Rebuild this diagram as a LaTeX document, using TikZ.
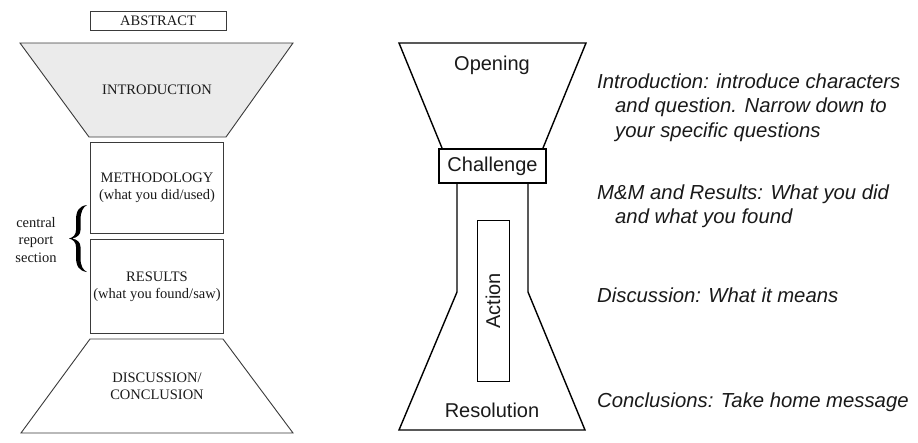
\documentclass[tikz,border=0pt]{standalone}
\usepackage{fontspec}
\setmainfont{Liberation Serif}
\newfontfamily\arialfont{Liberation Sans}
\definecolor{lineg}{HTML}{3A3A3A}
\definecolor{txt}{HTML}{1A1A1A}
\definecolor{introfill}{HTML}{EBEBEB}
\begin{document}
\begin{tikzpicture}[x=1pt,y=-1pt,
  lshape/.style={draw=lineg,line width=0.9pt},
  rshape/.style={draw=black,line width=1.4pt},
  ltext/.style={inner sep=0pt,text=txt,font=\fontsize{14.5}{17.5}\selectfont,align=center},
  rlabel/.style={inner sep=0pt,text=txt,font=\arialfont\fontsize{20}{24}\selectfont},
  rnote/.style={inner sep=0pt,anchor=base west,text=txt,font=\arialfont\itshape\fontsize{20.3}{24}\selectfont}]
\useasboundingbox (0,0) rectangle (918,442);
\fill[white] (0,0) rectangle (918,442);
% ---------- left diagram ----------
\draw[lshape] (90,11) rectangle (226,30);
\node[ltext] (abstract) at (158,20.5) {ABSTRACT};
\draw[lshape,fill=introfill] (20,43) -- (293,43) -- (226,137) -- (89,137) -- cycle;
\node[ltext] (intro) at (157,90) {INTRODUCTION};
\draw[lshape] (90,142) rectangle (223,233);
\node[ltext] (meth) at (157,188) {METHODOLOGY\\(what you did/used)};
\draw[lshape] (90,239) rectangle (223,333);
\node[ltext] (res) at (157,287) {RESULTS\\(what you found/saw)};
\draw[lshape] (90,339) -- (223,339) -- (293,433) -- (21,433) -- cycle;
\node[ltext] (disc) at (157,386.5) {DISCUSSION/\\CONCLUSION};
\node[ltext] (central) at (36,240) {central\\report\\section};
\fill[black] (87,205) .. controls (79,206) and (76,211) .. (76,220) -- (76,230)
  .. controls (76,235) and (73,237.5) .. (69,238.5)
  .. controls (73,239.5) and (76,242) .. (76,247) -- (76,257)
  .. controls (76,266) and (79,271) .. (87,272)
  .. controls (83,270) and (80.5,266) .. (80.5,258) -- (80.5,247)
  .. controls (80.5,242) and (77,239.5) .. (72,238.5)
  .. controls (77,237.5) and (80.5,235) .. (80.5,230) -- (80.5,220)
  .. controls (80.5,212) and (83,207) .. (87,205) -- cycle;
% ---------- right diagram ----------
\draw[rshape,line join=miter] (442,148) -- (399,43) -- (586,43) -- (543,148);
\node[rlabel] (opening) at (492,65) {Opening};
\draw[rshape] (439,149) rectangle (546,183);
\node[rlabel] (challenge) at (492.5,166) {Challenge};
\draw[rshape,line join=miter] (457,183) -- (457,292) -- (399,430) -- (585,430) -- (528,292) -- (528,183);
\draw[draw=black,line width=0.9pt] (477,220) rectangle (509,381);
\node[rlabel,rotate=90] (action) at (493,301) {Action};
\node[rlabel] (resolution) at (492,410) {Resolution};
% ---------- notes ----------
\node[rnote] (n1a) at (597,88) {Introduction: introduce characters};
\node[rnote] (n1b) at (615,112.5) {and question. Narrow down to};
\node[rnote] (n1c) at (615,137) {your specific questions};
\node[rnote] (n2a) at (597,199) {M\&M and Results: What you did};
\node[rnote] (n2b) at (615,223.5) {and what you found};
\node[rnote] (n3) at (597,302) {Discussion: What it means};
\node[rnote] (n4) at (597,407) {Conclusions: Take home message};
\end{tikzpicture}
\end{document}
